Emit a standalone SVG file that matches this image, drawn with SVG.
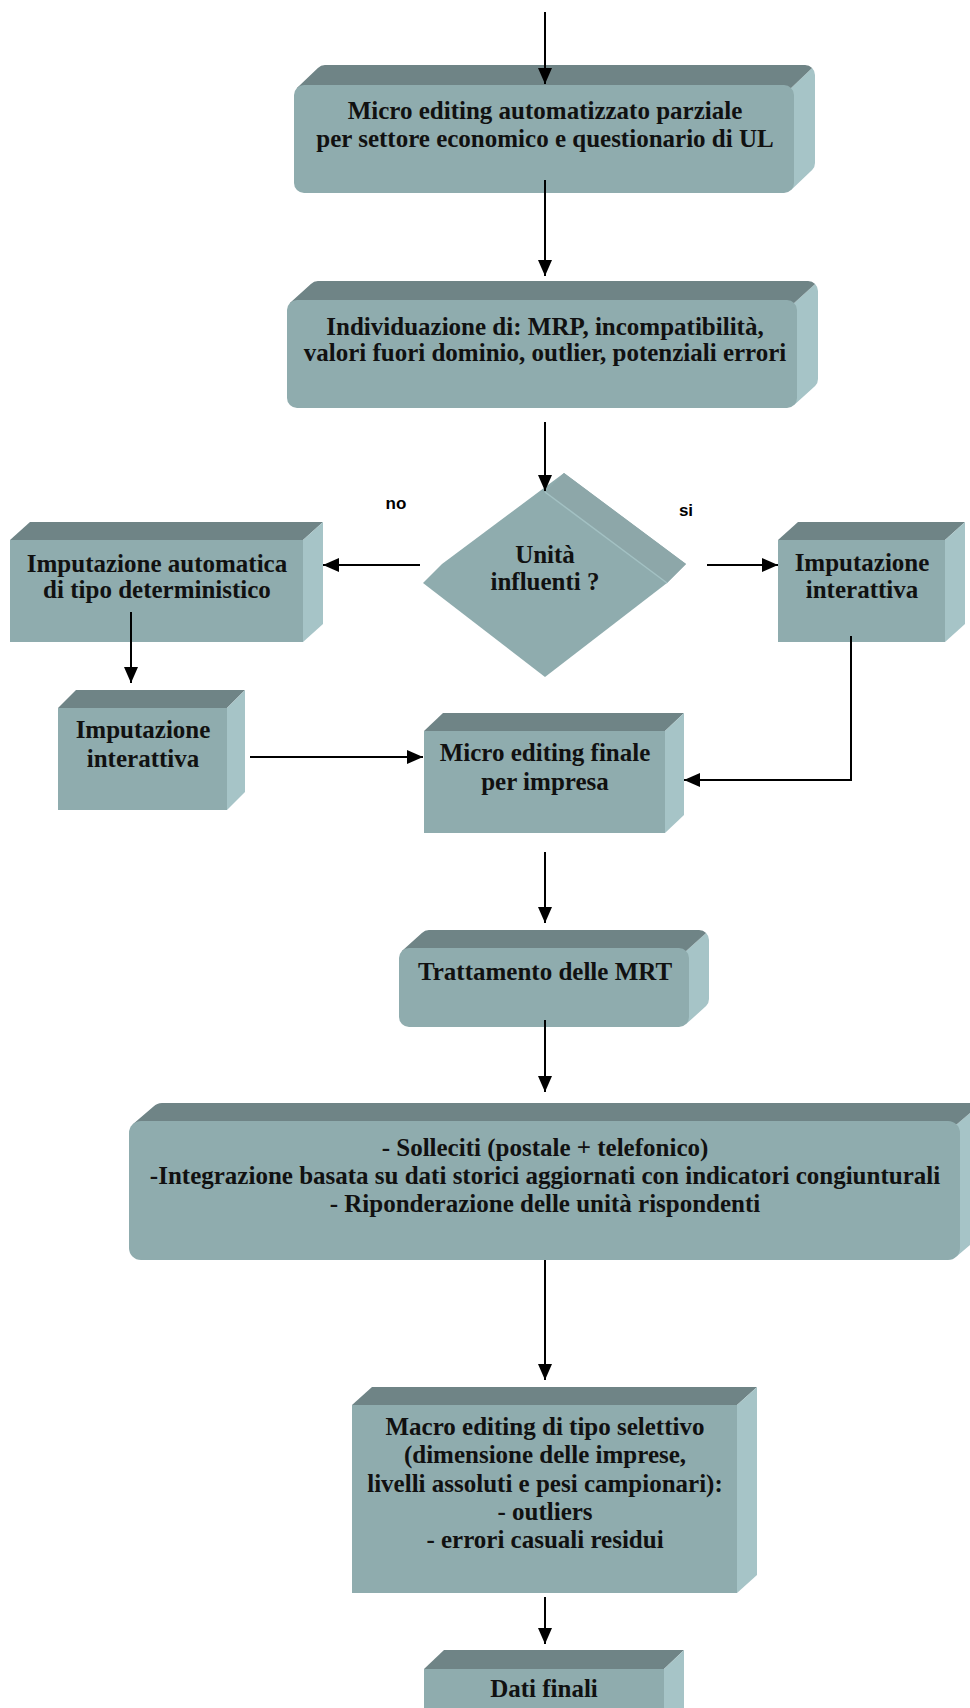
<svg xmlns="http://www.w3.org/2000/svg" width="970" height="1708" viewBox="0 0 970 1708">
  <defs>
    <style>
      .front{fill:#8FACAE}
      .top{fill:#6F8486}
      .side{fill:#A6C4C7}
      .dface{fill:#8DA7A9}
      .edge{stroke:#A3C1C3;stroke-width:1.5;fill:none}
      .lbl{font-family:"Liberation Serif","Times New Roman",serif;font-weight:bold;font-size:25px;fill:#111;text-anchor:middle}
      .yn{font-family:"Liberation Sans",Arial,sans-serif;font-weight:bold;font-size:17px;fill:#000;text-anchor:middle}
      .conn line,.conn polyline{stroke:#000;stroke-width:2;fill:none}
    </style>
    <marker id="ah" markerUnits="userSpaceOnUse" markerWidth="16" markerHeight="14" refX="16" refY="7" orient="auto">
      <path d="M0,0 L16,7 L0,14 Z" fill="#000"/>
    </marker>
  </defs>

  <rect width="970" height="1708" fill="#fff"/>

  <!-- rounded 3D block: micro editing automatizzato -->
  <g id="n-micro-auto">
    <path class="side" d="M791.1,87.9 L812.1,67.9 A10,10 0 0 1 815,75 L815,163 A10,10 0 0 1 812.1,170.1 L791.1,190.1 Z"/>
    <path class="top" d="M296.9,87.9 L317.9,67.9 A10,10 0 0 1 325,65 L805,65 A10,10 0 0 1 812.1,67.9 L791.1,87.9 Z"/>
    <rect class="front" x="294" y="85" width="500" height="108" rx="10"/>
    <text class="lbl" x="545" y="119">Micro editing automatizzato parziale</text>
    <text class="lbl" x="545" y="147">per settore economico e questionario di UL</text>
  </g>

  <g id="n-individuazione">
    <path class="side" d="M794.1,302.9 L815.1,283.9 A10,10 0 0 1 818,291 L818,379 A10,10 0 0 1 815.1,386.1 L794.1,405.1 Z"/>
    <path class="top" d="M289.9,302.9 L310.9,283.9 A10,10 0 0 1 318,281 L808,281 A10,10 0 0 1 815.1,283.9 L794.1,302.9 Z"/>
    <rect class="front" x="287" y="300" width="510" height="108" rx="10"/>
    <text class="lbl" x="545" y="335">Individuazione di: MRP, incompatibilità,</text>
    <text class="lbl" x="545" y="361">valori fuori dominio, outlier, potenziali errori</text>
  </g>

  <!-- decision diamond with extruded edge -->
  <g id="n-unita">
    <polygon class="front" points="423,583 442,564 564,473 686,564 667,583 545,677"/>
    <polygon class="dface" points="545,492 564,473 686,564 667,583"/>
    <line class="edge" x1="545" y1="492" x2="667" y2="583"/>
    <text class="lbl" x="545" y="563">Unità</text>
    <text class="lbl" x="545" y="590">influenti ?</text>
  </g>

  <g id="n-imp-auto">
    <polygon class="top" points="10,540 30,522 323,522 303,540"/>
    <polygon class="side" points="303,540 323,522 323,624 303,642"/>
    <rect class="front" x="10" y="540" width="293" height="102"/>
    <text class="lbl" x="157" y="572">Imputazione automatica</text>
    <text class="lbl" x="157" y="598">di tipo deterministico</text>
  </g>

  <g id="n-imp-inter-right">
    <polygon class="top" points="778,540 798,522 965,522 945,540"/>
    <polygon class="side" points="945,540 965,522 965,624 945,642"/>
    <rect class="front" x="778" y="540" width="167" height="102"/>
    <text class="lbl" x="862" y="571">Imputazione</text>
    <text class="lbl" x="862" y="598">interattiva</text>
  </g>

  <g id="n-imp-inter-left">
    <polygon class="top" points="58,708 76,690 245,690 227,708"/>
    <polygon class="side" points="227,708 245,690 245,792 227,810"/>
    <rect class="front" x="58" y="708" width="169" height="102"/>
    <text class="lbl" x="143" y="738">Imputazione</text>
    <text class="lbl" x="143" y="767">interattiva</text>
  </g>

  <g id="n-micro-finale">
    <polygon class="top" points="424,731 443,713 684,713 665,731"/>
    <polygon class="side" points="665,731 684,713 684,815 665,833"/>
    <rect class="front" x="424" y="731" width="241" height="102"/>
    <text class="lbl" x="545" y="761">Micro editing finale</text>
    <text class="lbl" x="545" y="790">per impresa</text>
  </g>

  <g id="n-mrt">
    <path class="side" d="M686.1,950.9 L706.1,932.9 A10,10 0 0 1 709,940 L709,999 A10,10 0 0 1 706.1,1006.1 L686.1,1024.1 Z"/>
    <path class="top" d="M401.9,950.9 L421.9,932.9 A10,10 0 0 1 429,930 L699,930 A10,10 0 0 1 706.1,932.9 L686.1,950.9 Z"/>
    <rect class="front" x="399" y="948" width="290" height="79" rx="10"/>
    <text class="lbl" x="545" y="980">Trattamento delle MRT</text>
  </g>

  <g id="n-solleciti">
    <path class="side" d="M956.5,1124.5 L977.5,1106.5 A12,12 0 0 1 981,1115 L981,1230 A12,12 0 0 1 977.5,1238.5 L956.5,1256.5 Z"/>
    <path class="top" d="M132.5,1124.5 L153.5,1106.5 A12,12 0 0 1 162,1103 L969,1103 A12,12 0 0 1 977.5,1106.5 L956.5,1124.5 Z"/>
    <rect class="front" x="129" y="1121" width="831" height="139" rx="12"/>
    <text class="lbl" x="545" y="1156">- Solleciti (postale + telefonico)</text>
    <text class="lbl" x="545" y="1184">-Integrazione basata su dati storici aggiornati con indicatori congiunturali</text>
    <text class="lbl" x="545" y="1212">- Riponderazione delle unità rispondenti</text>
  </g>

  <g id="n-macro">
    <polygon class="top" points="352,1405 372,1387 757,1387 737,1405"/>
    <polygon class="side" points="737,1405 757,1387 757,1575 737,1593"/>
    <rect class="front" x="352" y="1405" width="385" height="188"/>
    <text class="lbl" x="545" y="1435">Macro editing di tipo selettivo</text>
    <text class="lbl" x="545" y="1463">(dimensione delle imprese,</text>
    <text class="lbl" x="545" y="1492">livelli assoluti e pesi campionari):</text>
    <text class="lbl" x="545" y="1520">- outliers</text>
    <text class="lbl" x="545" y="1548">- errori casuali residui</text>
  </g>

  <g id="n-dati-finali">
    <polygon class="top" points="424,1669 444,1650 684,1650 664,1669"/>
    <polygon class="side" points="664,1669 684,1650 684,1720 664,1728"/>
    <rect class="front" x="424" y="1669" width="240" height="60"/>
    <text class="lbl" x="544" y="1697">Dati finali</text>
  </g>

  <!-- connectors -->
  <g id="connectors" class="conn">
    <line x1="545" y1="12" x2="545" y2="84" marker-end="url(#ah)"/>
    <line x1="545" y1="180" x2="545" y2="276" marker-end="url(#ah)"/>
    <line x1="545" y1="422" x2="545" y2="491" marker-end="url(#ah)"/>
    <line x1="420" y1="565" x2="323" y2="565" marker-end="url(#ah)"/>
    <line x1="707" y1="565" x2="778" y2="565" marker-end="url(#ah)"/>
    <line x1="131" y1="612" x2="131" y2="683" marker-end="url(#ah)"/>
    <line x1="250" y1="757" x2="423" y2="757" marker-end="url(#ah)"/>
    <polyline points="851,636 851,780 684,780" marker-end="url(#ah)"/>
    <line x1="545" y1="852" x2="545" y2="923" marker-end="url(#ah)"/>
    <line x1="545" y1="1020" x2="545" y2="1092" marker-end="url(#ah)"/>
    <line x1="545" y1="1260" x2="545" y2="1380" marker-end="url(#ah)"/>
    <line x1="545" y1="1597" x2="545" y2="1644" marker-end="url(#ah)"/>
  </g>

  <g id="branch-labels">
    <text class="yn" x="396" y="509">no</text>
    <text class="yn" x="686" y="516">si</text>
  </g>
</svg>
